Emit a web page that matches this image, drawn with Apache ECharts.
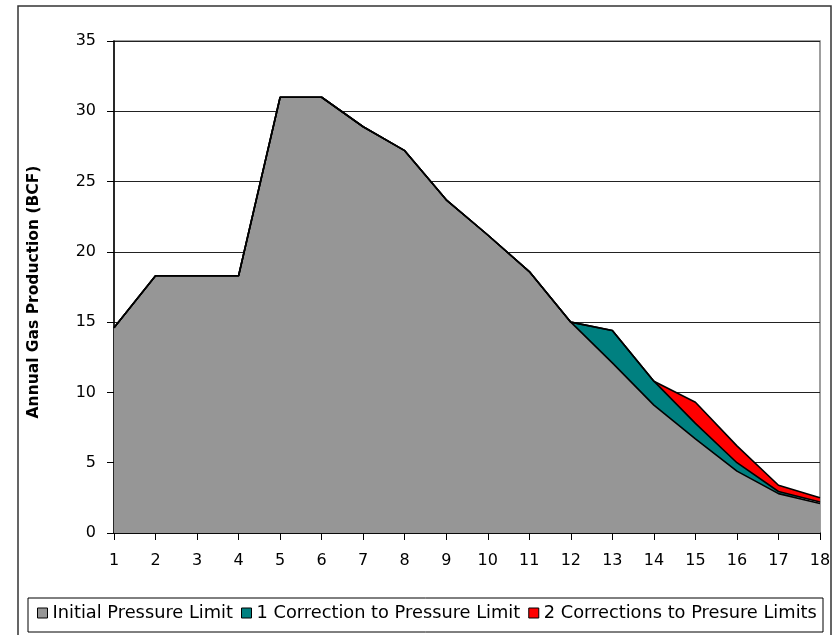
<!DOCTYPE html>
<html>
<head>
<meta charset="utf-8">
<title>Annual Gas Production</title>
<script src="https://cdn.jsdelivr.net/npm/echarts@6/dist/echarts.min.js"></script>
<style>
  html, body { margin: 0; padding: 0; background: #fff; }
  #chart { width: 837px; height: 635px; }
</style>
</head>
<body>
<div id="chart"></div>
<script>
// Year index along the horizontal axis
const years = ['1','2','3','4','5','6','7','8','9','10','11','12','13','14','15','16','17','18'];

// Production under the initial pressure limit (BCF)
const initialLimit = [14.6, 18.3, 18.3, 18.3, 31.0, 31.0, 28.9, 27.2, 23.7, 21.2, 18.6, 15.0, 12.1, 9.1, 6.7, 4.4, 2.8, 2.1];

// Extra production gained by one correction (stacked on top)
const oneCorrection = [0, 0, 0, 0, 0, 0, 0, 0, 0, 0, 0, 0, 2.3, 1.7, 1.1, 0.6, 0.15, 0.1];

// Extra production gained by the second correction (stacked on top)
const twoCorrections = [0, 0, 0, 0, 0, 0, 0, 0, 0, 0, 0, 0, 0, 0, 1.5, 1.2, 0.45, 0.3];

const seriesNames = ['Initial Pressure Limit', '1 Correction to Pressure Limit', '2 Corrections to Presure Limits'];
const yTicks = { min: 0, max: 35, step: 5 };

const FONT = '"DejaVu Sans", "Liberation Sans", Arial, sans-serif';
const fills = ['#969696', '#008080', '#ff0000'];

function areaSeries(name, data, fill) {
  return {
    name: name,
    type: 'line',
    stack: 'production',
    data: data,
    symbol: 'none',
    silent: true,
    lineStyle: { color: '#000', width: 1.6 },
    itemStyle: { color: fill, borderColor: '#000', borderWidth: 1 },
    areaStyle: { color: fill, opacity: 1 }
  };
}

const chart = echarts.init(document.getElementById('chart'), null, { renderer: 'canvas' });

chart.setOption({
  animation: false,
  backgroundColor: '#fff',
  textStyle: { fontFamily: FONT },
  graphic: [
    {
      type: 'rect',
      z: -10,
      shape: { x: 18, y: 6, width: 813, height: 700 },
      style: { fill: 'none', stroke: '#333', lineWidth: 1.5 },
      silent: true
    },
    {
      type: 'rect',
      z: -5,
      shape: { x: 28, y: 598, width: 795, height: 34 },
      style: { fill: '#fff', stroke: '#000', lineWidth: 1 },
      silent: true
    }
  ],
  grid: {
    left: 114, right: 17, top: 41, bottom: 102,
    show: true, borderColor: '#808080', borderWidth: 1.5, backgroundColor: 'transparent'
  },
  legend: {
    data: seriesNames,
    left: 37, top: 604,
    padding: 0,
    icon: 'rect',
    itemWidth: 10, itemHeight: 10,
    itemGap: 8,
    itemStyle: { borderColor: '#000', borderWidth: 1 },
    textStyle: { fontFamily: FONT, fontSize: 17.8, color: '#000' },
    selectedMode: false
  },
  xAxis: {
    type: 'category',
    data: years,
    boundaryGap: false,
    axisLine: { lineStyle: { color: '#000', width: 1.5 } },
    axisTick: { show: true, inside: false, length: 7, lineStyle: { color: '#000' } },
    axisLabel: { fontFamily: FONT, fontSize: 16, color: '#000', margin: 20 },
    splitLine: { show: false }
  },
  yAxis: {
    type: 'value',
    min: yTicks.min, max: yTicks.max, interval: yTicks.step,
    name: 'Annual Gas Production (BCF)',
    nameLocation: 'middle',
    nameRotate: 90,
    nameGap: 72,
    nameTextStyle: { fontFamily: FONT, fontSize: 15.5, fontWeight: 'bold', color: '#000', padding: [0, 10, 0, 0] },
    axisLine: { show: true, lineStyle: { color: '#000', width: 1.5 } },
    axisTick: { show: true, inside: false, length: 7, lineStyle: { color: '#000' } },
    axisLabel: { fontFamily: FONT, fontSize: 16, color: '#000', margin: 18 },
    splitLine: { show: true, lineStyle: { color: '#222', width: 1 } }
  },
  series: [
    areaSeries(seriesNames[0], initialLimit, fills[0]),
    areaSeries(seriesNames[1], oneCorrection, fills[1]),
    areaSeries(seriesNames[2], twoCorrections, fills[2])
  ]
});
</script>
</body>
</html>
